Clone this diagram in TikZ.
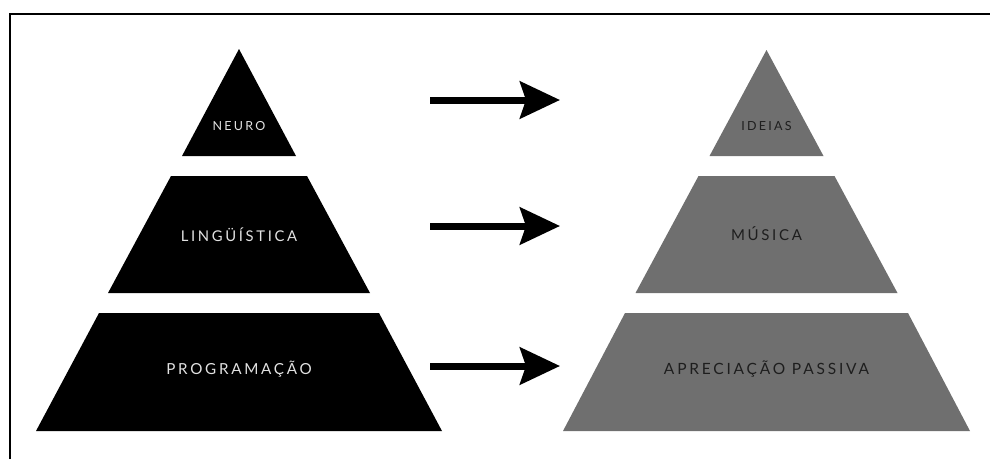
\documentclass[tikz,border=0pt]{standalone}
\usepackage{fontspec}
\setmainfont{Lato}
\newfontfamily\layerfont[LetterSpace=18]{Lato}
\usetikzlibrary{arrows.meta,positioning}
\definecolor{layerGrey}{HTML}{6F6F6F}
\definecolor{paleText}{HTML}{E2E2E2}
\definecolor{inkText}{HTML}{1E1E1E}
\tikzset{blackLayer/.style={fill=black}}
\tikzset{greyLayer/.style={fill=layerGrey}}
\tikzset{paleLabel/.style={text=paleText,inner sep=0pt,font=\layerfont}}
\tikzset{inkLabel/.style={text=inkText,inner sep=0pt,font=\layerfont}}
\tikzset{mapArrow/.style={-{Stealth[length=40pt,width=37pt,inset=6pt]},line width=7pt}}

\begin{document}
\begin{tikzpicture}[x=1pt,y=-1pt]
\useasboundingbox (0,0) rectangle (990,459);
\begin{scope}
	% frame
	\draw[line width=2pt] (10,459) -- (10,14) -- (990,14);
	% left pyramid
	\fill[blackLayer] (239,49) -- (296,156) -- (182,156) -- cycle;
	\fill[blackLayer] (171,176) -- (307,176) -- (370,293) -- (108,293) -- cycle;
	\fill[blackLayer] (99,313) -- (379,313) -- (442,431) -- (36,431) -- cycle;
	% right pyramid
	\fill[greyLayer] (766.5,50) -- (823.5,156) -- (709.5,156) -- cycle;
	\fill[greyLayer] (698.5,176) -- (834.5,176) -- (897.5,293) -- (635.5,293) -- cycle;
	\fill[greyLayer] (625,313) -- (908,313) -- (970,431) -- (563,431) -- cycle;
	% labels
	\node (neuro) [paleLabel] at (239,126) {\fontsize{12.5}{14}\selectfont NEURO};
	\node (ling) [paleLabel] at (239,235) {\fontsize{14.8}{17}\selectfont LINGÜÍSTICA};
	\node (prog) [paleLabel] at (239,369) {\fontsize{15.2}{18}\selectfont PROGRAMAÇÃO};
	\node (ideias) [inkLabel] at (766.5,126) {\fontsize{12.5}{14}\selectfont IDEIAS};
	\node (musica) [inkLabel] at (766.5,234) {\fontsize{15}{17}\selectfont MÚSICA};
	\node (apre) [inkLabel] at (766.5,369) {\fontsize{15.5}{18}\selectfont APRECIAÇÃO PASSIVA};
	% arrows
	\coordinate (fromNeuro) at (430,100);
	\coordinate (toIdeias) at (560,100);
	\coordinate (fromLing) at (430,226);
	\coordinate (toMusica) at (560,226);
	\coordinate (fromProg) at (430,366);
	\coordinate (toApre) at (560,366);
	\draw[mapArrow] (fromNeuro) -- (toIdeias);
	\draw[mapArrow] (fromLing) -- (toMusica);
	\draw[mapArrow] (fromProg) -- (toApre);
\end{scope}
\end{tikzpicture}
\end{document}
